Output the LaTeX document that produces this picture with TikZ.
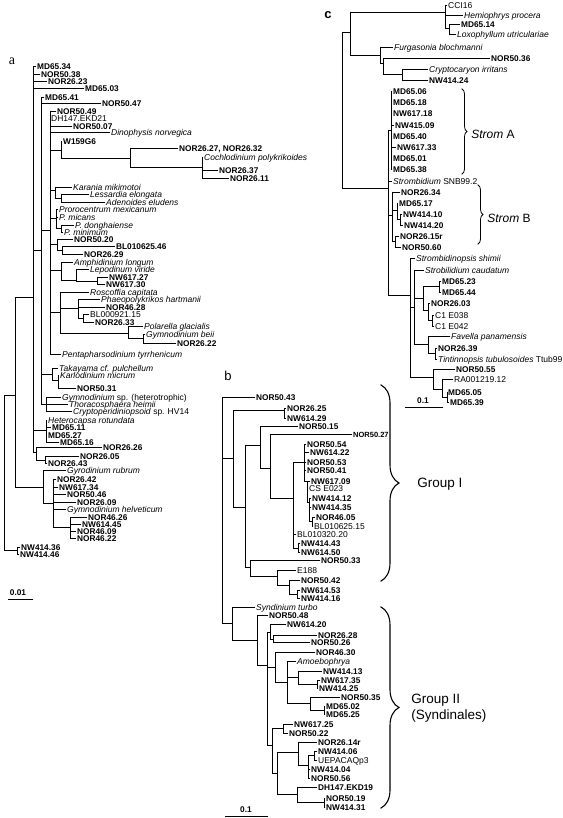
\documentclass[tikz,border=0pt]{standalone}
\usepackage{fontspec}
\setmainfont{Liberation Sans}
\newfontfamily\serifA{Liberation Serif}
\usetikzlibrary{decorations.pathreplacing}
\newcounter{tipn}
\newcommand\brT[5]{\stepcounter{tipn}\draw (#1,#2) -- (#3,#2) node[#4] (tip\arabic{tipn}) {#5};}
\newcommand\brV[3]{\draw (#1,#2) -- (#1,#3);}
\newcommand\brH[3]{\draw (#1,#2) -- (#3,#2);}
\tikzset{
 lab/.style={right, inner xsep=0.8pt, inner ysep=0pt, text height=6.2pt, text depth=0pt, font=\fontsize{8.5}{9}\selectfont},
 lb/.style={lab, font=\fontsize{8.3}{9}\selectfont\bfseries},
 li/.style={lab, font=\fontsize{8.5}{9}\selectfont\itshape},
 lr/.style={lab},
 grp/.style={right, inner sep=0pt, font=\fontsize{13.5}{16}\selectfont},
 strom/.style={right, inner sep=0pt, font=\fontsize{12}{14}\selectfont},
 panel/.style={inner sep=0pt, font=\fontsize{13}{14}\selectfont},
 bigbrace/.style={decorate, decoration={brace, amplitude=18pt}, line width=1.1pt},
 smallbrace/.style={decorate, decoration={brace, amplitude=5pt}, line width=0.8pt},
 scl/.style={inner sep=0pt, font=\fontsize{8.3}{9}\selectfont\bfseries},
}
\begin{document}
\begin{tikzpicture}[x=1pt,y=-1pt,line width=0.75pt,line cap=rect]
\path[use as bounding box] (0,0) rectangle (562,818);

% ================= TREE a =================
\node[panel,font=\fontsize{14}{14}\serifA] (pa) at (12,61) {a};
% root
\brV{4}{395}{550}
\brH{4}{395}{15}
\brH{4}{550}{17}
\brV{17}{547}{554}
\brT{17}{547}{20}{lb}{NW414.36}
\brT{17}{554}{19}{lb}{NW414.46}
% N15
\brV{15}{297}{487}
\brH{15}{297}{33}
\brH{15}{487}{43}
% N33
\brV{33}{66}{452}
\brT{33}{66}{36}{lb}{MD65.34}
\brT{33}{74}{40}{lb}{NOR50.38}
\brT{33}{81}{47}{lb}{NOR26.23}
\brT{33}{88}{84}{lb}{MD65.03}
\brH{33}{250}{41}
\brH{33}{430}{46}
\brH{33}{452}{36}
% N41
\brV{41}{97}{404}
\brT{41}{97}{44}{lb}{MD65.41}
\brT{41}{103}{101}{lb}{NOR50.47}
\brH{41}{230}{50}
\brH{41}{374}{52}
\brH{41}{404}{46}
% N50 core
\brV{50}{111}{354}
\brT{50}{111}{56}{lb}{NOR50.49}
\brT{50}{118}{50}{lr}{DH147.EKD21}
\brT{50}{126}{72}{lb}{NOR50.07}
\brT{50}{132}{110}{li}{Dinophysis norvegica}
\brH{50}{150}{61}
\brV{61}{141}{158}
\brT{61}{141}{62}{lb}{W159G6}
\brH{61}{158}{130}
\brV{130}{148}{167}
\brT{130}{148}{178}{lb}{NOR26.27, NOR26.32}
\brH{130}{167}{202}
\brV{202}{157}{178}
\brT{202}{157}{203}{li}{Cochlodinium polykrikoides}
\brT{202}{170}{218}{lb}{NOR26.37}
\brT{202}{178}{229}{lb}{NOR26.11}
% Karania
\brH{50}{190}{55}
\brV{55}{187}{198}
\brT{55}{187}{72}{li}{Karania mikimotoi}
\brH{55}{198}{61}
\brV{61}{194}{202}
\brT{61}{194}{89}{li}{Lessardia elongata}
\brT{61}{202}{105}{li}{Adenoides eludens}
% Prorocentrum
\brH{50}{218}{56}
\brV{56}{209}{228}
\brT{56}{209}{58}{li}{Prorocentrum mexicanum}
\brT{56}{217}{58}{li}{P. micans}
\brH{56}{228}{61}
\brV{61}{225}{232}
\brT{61}{225}{74}{li}{P. donghaiense}
\brT{61}{232}{63}{li}{P. minimum}
% NOR50.20
\brH{50}{244}{57}
\brV{57}{239}{250}
\brT{57}{239}{73}{lb}{NOR50.20}
\brH{57}{250}{62}
\brV{62}{246}{254}
\brT{62}{246}{115}{lb}{BL010625.46}
\brT{62}{254}{83}{lb}{NOR26.29}
% Amphidinium
\brH{50}{270}{61}
\brV{61}{262}{280}
\brT{61}{262}{73}{li}{Amphidinium longum}
\brH{61}{280}{76}
\brV{76}{269}{281}
\brT{76}{269}{89}{li}{Lepodinum viride}
\brH{76}{281}{97}
\brV{97}{277}{284}
\brT{97}{277}{108}{lb}{NW617.27}
\brT{97}{284}{105}{lb}{NW617.30}
% Roscoffia
\brH{50}{312}{60}
\brV{60}{292}{333}
\brT{60}{292}{89}{li}{Roscoffia capitata}
\brH{60}{308}{78}
\brV{78}{299}{318}
\brT{78}{299}{100}{li}{Phaeopolykrikos hartmanii}
\brT{78}{307}{105}{lb}{NOR46.28}
\brH{78}{318}{83}
\brV{83}{314}{322}
\brT{83}{314}{89}{lr}{BL000921.15}
\brT{83}{322}{94}{lb}{NOR26.33}
\brH{60}{333}{128}
\brV{128}{326}{338}
\brT{128}{326}{143}{li}{Polarella glacialis}
\brH{128}{338}{143}
\brV{143}{334}{343}
\brT{143}{334}{145}{li}{Gymnodinium beii}
\brT{143}{343}{176}{lb}{NOR26.22}
\brT{50}{354}{61}{li}{Pentapharsodinium tyrrhenicum}
% Takayama
\brV{52}{368}{380}
\brT{52}{368}{58}{li}{Takayama cf. pulchellum}
\brH{52}{380}{58}
\brV{58}{375}{388}
\brT{58}{375}{59}{li}{Karlodinium micrum}
\brT{58}{388}{76}{lb}{NOR50.31}
% Gymnodinium sp.
\brV{46}{397}{411}
\brT{46}{397}{61}{lr}{\textit{Gymnodinium} sp. (heterotrophic)}
\brT{46}{404}{68}{li}{Thoracosphaera heimii}
\brT{46}{411}{72}{lr}{\textit{Cryptoperidiniopsoid} sp. HV14}
% Heterocapsa
\brV{46}{420}{442}
\brT{46}{420}{47}{li}{Heterocapsa rotundata}
\brT{46}{427}{51}{lb}{MD65.11}
\brT{46}{435}{47}{lb}{MD65.27}
\brT{46}{442}{59}{lb}{MD65.16}
% NOR26.26
\brV{36}{447}{460}
\brT{36}{447}{102}{lb}{NOR26.26}
\brH{36}{460}{45}
\brV{45}{456}{463}
\brT{45}{456}{79}{lb}{NOR26.05}
\brT{45}{463}{47}{lb}{NOR26.43}
% Gyrodinium
\brV{43}{470}{503}
\brT{43}{470}{66}{li}{Gyrodinium rubrum}
\brH{43}{503}{53}
\brV{53}{479}{527}
\brT{53}{479}{56}{lb}{NOR26.42}
\brT{53}{487}{58}{lb}{NW617.34}
\brT{53}{494}{66}{lb}{NOR50.46}
\brT{53}{502}{76}{lb}{NOR26.09}
\brT{53}{509}{66}{li}{Gymnodinium helveticum}
\brH{53}{527}{70}
\brV{70}{517}{538}
\brT{70}{517}{87}{lb}{NOR46.26}
\brT{70}{524}{81}{lb}{NW614.45}
\brT{70}{531}{76}{lb}{NOR46.09}
\brT{70}{538}{76}{lb}{NOR46.22}
% scale a
\coordinate (sa1) at (8,599);
\coordinate (sa2) at (33,599);
\draw (sa1) -- (sa2);
\node[scl] (sal) at (18,593) {0.01};

% ================= TREE b =================
\node[panel] (pb) at (228,376) {b};
\brV{222}{397}{623}
\brT{222}{397}{255}{lb}{NOR50.43}
\brH{222}{458}{233}
\brH{222}{623}{232}
\brV{233}{410}{507}
\brH{233}{410}{284}
\brV{284}{408}{418}
\brT{284}{408}{286}{lb}{NOR26.25}
\brT{284}{418}{286}{lb}{NW614.29}
\brH{233}{507}{245}
\brV{245}{445}{567}
\brH{245}{445}{260}
\brV{260}{426}{468}
\brT{260}{426}{298}{lb}{NOR50.15}
\brH{260}{468}{270}
\brV{270}{434}{498}
\brT{270}{434}{352}{lb,font=\fontsize{7.5}{8}\selectfont\bfseries}{NOR50.27}
\brH{270}{498}{293}
\brV{293}{462}{548}
\brH{293}{462}{304}
\brT{293}{534}{296}{lr}{BL010320.20}
\brH{293}{548}{298}
\brV{298}{543}{552}
\brT{298}{543}{300}{lb}{NW414.43}
\brT{298}{552}{300}{lb}{NW614.50}
\brV{304}{444}{481}
\brT{304}{444}{306}{lb}{NOR50.54}
\brT{304}{452}{309}{lb}{NW614.22}
\brT{304}{462}{306}{lb}{NOR50.53}
\brT{304}{470}{306}{lb}{NOR50.41}
\brH{304}{481}{307}
\brV{307}{481}{502}
\brT{307}{481}{310}{lb}{NW617.09}
\brT{307}{488}{308}{lr}{CS E023}
\brH{307}{502}{309}
\brV{309}{498}{521}
\brT{309}{498}{311}{lb}{NW414.12}
\brT{309}{507}{311}{lb}{NW414.35}
\brH{309}{521}{312}
\brV{312}{517}{526}
\brT{312}{517}{315}{lb}{NOR46.05}
\brT{312}{526}{313}{lr}{BL010625.15}
\brH{245}{567}{250}
\brV{250}{560}{576}
\brT{250}{560}{320}{lb}{NOR50.33}
\brH{250}{576}{277}
\brV{277}{570}{585}
\brT{277}{570}{296}{lr}{E188}
\brH{277}{585}{289}
\brV{289}{580}{594}
\brT{289}{580}{300}{lb}{NOR50.42}
\brH{289}{594}{297}
\brV{297}{590}{598}
\brT{297}{590}{300}{lb}{NW614.53}
\brT{297}{598}{300}{lb}{NW414.16}
% Group II
\brV{232}{607}{640}
\brT{232}{607}{255}{li}{Syndinium turbo}
\brH{232}{640}{257}
\brV{257}{615}{665}
\brT{257}{615}{268}{lb}{NOR50.48}
\brH{257}{665}{267}
\brV{267}{632}{745}
\brH{267}{632}{270}
\brV{270}{624}{639}
\brT{270}{624}{286}{lb}{NW614.20}
\brH{270}{639}{273}
\brV{273}{635}{642}
\brT{273}{635}{317}{lb}{NOR26.28}
\brT{273}{642}{310}{lb}{NOR50.26}
\brH{267}{667}{275}
\brV{275}{652}{682}
\brT{275}{652}{315}{lb}{NOR46.30}
\brH{275}{682}{287}
\brV{287}{661}{703}
\brT{287}{661}{296}{li}{Amoebophrya}
\brH{287}{677}{298}
\brV{298}{671}{684}
\brT{298}{671}{322}{lb}{NW414.13}
\brH{298}{684}{317}
\brV{317}{680}{688}
\brT{317}{680}{320}{lb}{NW617.35}
\brT{317}{688}{318}{lb}{NW414.25}
\brH{287}{703}{310}
\brV{310}{697}{710}
\brT{310}{697}{340}{lb}{NOR50.35}
\brH{310}{710}{324}
\brV{324}{706}{714}
\brT{324}{706}{325}{lb}{MD65.02}
\brT{324}{714}{325}{lb}{MD65.25}
\brH{267}{745}{272}
\brV{272}{728}{773}
\brH{272}{728}{283}
\brV{283}{724}{733}
\brT{283}{724}{293}{lb}{NW617.25}
\brT{283}{733}{288}{lb}{NOR50.22}
\brH{272}{773}{277}
\brV{277}{752}{794}
\brH{277}{752}{298}
\brV{298}{742}{765}
\brT{298}{742}{317}{lb}{NOR26.14r}
\brH{298}{765}{308}
\brV{308}{755}{778}
\brH{308}{755}{314}
\brV{314}{751}{760}
\brT{314}{751}{317}{lb}{NW414.06}
\brT{314}{760}{317}{lr}{UEPACAQp3}
\brT{308}{769}{310}{lb}{NW414.04}
\brT{308}{778}{310}{lb}{NOR50.56}
\brH{277}{794}{297}
\brV{297}{787}{802}
\brT{297}{787}{317}{lb}{DH147.EKD19}
\brH{297}{802}{324}
\brV{324}{798}{807}
\brT{324}{798}{325}{lb}{NOR50.19}
\brT{324}{807}{325}{lb}{NW414.31}
% braces b
\coordinate (g1a) at (381,385);
\coordinate (g1b) at (381,581);
\draw[bigbrace] (g1a) -- (g1b);
\node[grp] (g1) at (417,484) {Group I};
\coordinate (g2a) at (381,607);
\coordinate (g2b) at (381,808);
\draw[bigbrace] (g2a) -- (g2b);
\node[grp] (g2) at (411,700) {Group II};
\node[grp] (g2s) at (411,716) {(Syndinales)};
% scale b
\coordinate (sb1) at (225,816);
\coordinate (sb2) at (268,816);
\draw (sb1) -- (sb2);
\node[scl] (sbl) at (246,810) {0.1};

% ================= TREE c =================
\node[panel,font=\fontsize{13}{14}\selectfont\bfseries] (pc) at (328,15) {c};
\brV{342}{32}{188}
\brH{342}{32}{350}
\brH{342}{188}{388}
\brV{350}{12}{55}
\brH{350}{12}{445}
\brH{350}{55}{380}
\brV{445}{5}{28}
\brT{445}{5}{447}{lr}{CCI16}
\brT{445}{15}{463}{li}{Hemiophrys procera}
\brH{445}{28}{449}
\brV{449}{24}{34}
\brT{449}{24}{460}{lb}{MD65.14}
\brT{449}{34}{456}{li}{Loxophyllum utriculariae}
\brV{380}{47}{63}
\brT{380}{47}{393}{li}{Furgasonia blochmanni}
\brH{380}{63}{383}
\brV{383}{58}{74}
\brT{383}{58}{490}{lb}{NOR50.36}
\brH{383}{74}{402}
\brV{402}{69}{80}
\brT{402}{69}{428}{li}{Cryptocaryon irritans}
\brT{402}{80}{428}{lb}{NW414.24}
% strombidiids
\brV{388}{130}{295}
\brH{388}{130}{391}
\brV{391}{91}{169}
\brT{391}{91}{392}{lb}{MD65.06}
\brT{391}{102}{392}{lb}{MD65.18}
\brT{391}{113}{392}{lb}{NW617.18}
\brT{391}{125}{394}{lb}{NW415.09}
\brT{391}{136}{392}{lb}{MD65.40}
\brT{391}{147}{396}{lb}{NW617.33}
\brT{391}{158}{392}{lb}{MD65.01}
\brT{391}{169}{392}{lb}{MD65.38}
\brT{388}{181}{392}{lr}{\textit{Strombidium} SNB99.2}
\brH{388}{215}{392}
\brV{392}{192}{241}
\brT{392}{192}{400}{lb}{NOR26.34}
\brH{392}{210}{397}
\brV{397}{203}{219}
\brT{397}{203}{398}{lb}{MD65.17}
\brH{397}{219}{400}
\brV{400}{214}{225}
\brT{400}{214}{402}{lb}{NW414.10}
\brT{400}{225}{403}{lb}{NW414.20}
\brH{392}{241}{395}
\brV{395}{236}{247}
\brT{395}{236}{399}{lb}{NOR26.15r}
\brT{395}{247}{401}{lb}{NOR50.60}
% choreotrichs
\brH{388}{295}{410}
\brV{410}{258}{377}
\brT{410}{258}{415}{li}{Strombidinopsis shimii}
\brH{410}{307}{414}
\brV{414}{270}{344}
\brT{414}{270}{424}{li}{Strobilidium caudatum}
\brH{414}{298}{423}
\brV{423}{286}{310}
\brH{423}{286}{439}
\brV{439}{281}{292}
\brT{439}{281}{441}{lb}{MD65.23}
\brT{439}{292}{441}{lb}{MD65.44}
\brH{423}{310}{428}
\brV{428}{303}{320}
\brT{428}{303}{430}{lb}{NOR26.03}
\brH{428}{320}{432}
\brV{432}{315}{326}
\brT{432}{315}{434}{lr}{C1 E038}
\brT{432}{326}{434}{lr}{C1 E042}
\brH{414}{344}{428}
\brV{428}{336}{353}
\brT{428}{336}{450}{li}{Favella panamensis}
\brH{428}{353}{435}
\brV{435}{348}{359}
\brT{435}{348}{437}{lb}{NOR26.39}
\brT{435}{359}{437}{lr}{\textit{Tintinnopsis tubulosoides} Ttub99}
\brH{410}{377}{433}
\brV{433}{369}{389}
\brT{433}{369}{455}{lb}{NOR50.55}
\brH{433}{389}{442}
\brV{442}{379}{397}
\brT{442}{379}{453}{lr}{RA001219.12}
\brH{442}{397}{447}
\brV{447}{392}{402}
\brT{447}{392}{447}{lb}{MD65.05}
\brT{447}{402}{449}{lb}{MD65.39}
% braces c
\coordinate (sAa) at (462,89);
\coordinate (sAb) at (462,174);
\draw[smallbrace] (sAa) -- (sAb);
\node[strom] (sA) at (471,134) {\textit{Strom} A};
\coordinate (sBa) at (478,185);
\coordinate (sBb) at (478,244);
\draw[smallbrace] (sBa) -- (sBb);
\node[strom] (sB) at (487,218) {\textit{Strom} B};
% scale c
\coordinate (sc1) at (405,407);
\coordinate (sc2) at (443,407);
\draw (sc1) -- (sc2);
\node[scl] (scl1) at (423,401) {0.1};
\end{tikzpicture}
\end{document}
